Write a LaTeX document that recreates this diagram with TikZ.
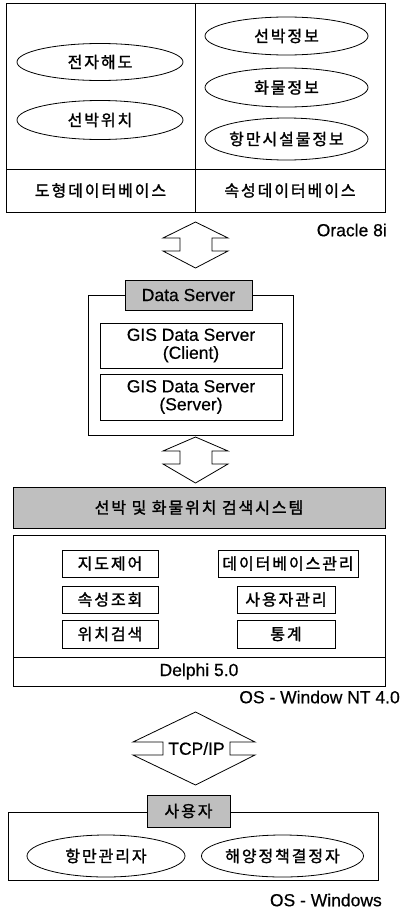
\documentclass[tikz,border=0pt]{standalone}
\usepackage{fontspec}
\setmainfont{Liberation Sans}[FakeBold=0.5]
\newfontfamily\kr{Noto Sans CJK KR}[LetterSpace=12,FakeBold=1.5]
\usetikzlibrary{shapes.geometric}
\tikzset{
  lw/.style={line width=0.8pt},
  krtext/.style={font=\kr\fontsize{16}{19}\selectfont},
  lattext/.style={font=\fontsize{17.5}{20}\selectfont},
  oval/.style={draw, lw, ellipse, inner sep=0pt, krtext},
  box/.style={draw, lw, rectangle, inner sep=0pt},
  hdr/.style={draw, lw, rectangle, inner sep=0pt, fill=black!25},
  barrow/.style={draw, lw, fill=white, line join=miter},
}
\begin{document}
\begin{tikzpicture}[x=1pt,y=-1pt]
\useasboundingbox (0,0) rectangle (401,924);
% ---------- Oracle databases ----------
\node[box, minimum width=189, minimum height=166] (gpanel) at (100.5,86) {};
\node[box, minimum width=190, minimum height=166] (apanel) at (290,86) {};
\node[box, minimum width=189, minimum height=43, krtext] (gdb) at (100.5,190.5) {도형데이터베이스};
\node[box, minimum width=190, minimum height=43, krtext] (adb) at (290,190.5) {속성데이터베이스};
\node[oval, minimum width=166, minimum height=37] (e1) at (100,62) {전자해도};
\node[oval, minimum width=166, minimum height=39] (e2) at (100,120) {선박위치};
\node[oval, minimum width=163, minimum height=38] (e3) at (286.5,36) {선박정보};
\node[oval, minimum width=163, minimum height=39] (e4) at (286.5,87.5) {화물정보};
\node[oval, minimum width=163, minimum height=42] (e5) at (286.5,139) {항만시설물정보};
\node[lattext, anchor=east, inner sep=0pt] (ora) at (387,230) {Oracle 8i};
% ---------- block arrow 1 ----------
\draw[barrow] (195.5,222) -- (228,238) -- (212,238) -- (212,251) -- (228,251) -- (195.5,268)
  -- (163,251) -- (180,251) -- (180,238) -- (163,238) -- cycle;
% ---------- Data Server ----------
\node[box, minimum width=205, minimum height=140] (ds) at (190.5,365) {};
\node[box, minimum width=182, minimum height=45, lattext, align=center] (gc) at (191,345.5) {GIS Data Server\\[-2pt](Client)};
\node[box, minimum width=182, minimum height=46, lattext, align=center] (gs) at (191,397) {GIS Data Server\\[-2pt](Server)};
\node[hdr, minimum width=127, minimum height=30, lattext] (dsh) at (188.5,295) {Data Server};
% ---------- block arrow 2 ----------
\draw[barrow] (195.5,437) -- (228,451) -- (212,451) -- (212,464) -- (228,464) -- (195.5,483)
  -- (163,464) -- (180,464) -- (180,451) -- (163,451) -- cycle;
% ---------- search system ----------
\node[hdr, minimum width=372, minimum height=41, krtext] (sys) at (199,507.5) {선박 및 화물위치 검색시스템};
\node[box, minimum width=372, minimum height=151] (main) at (199,610.5) {};
\node[box, minimum width=372, minimum height=29, lattext] (delphi) at (199,671.5) {Delphi 5.0};
\node[box, minimum width=96, minimum height=27, krtext] (m1) at (110,563.5) {지도제어};
\node[box, minimum width=96, minimum height=27, krtext] (m2) at (110,599.5) {속성조회};
\node[box, minimum width=96, minimum height=28, krtext] (m3) at (110,634) {위치검색};
\node[box, minimum width=140, minimum height=27, krtext] (m4) at (288,563.5) {데이터베이스관리};
\node[box, minimum width=98, minimum height=27, krtext] (m5) at (286,599.5) {사용자관리};
\node[box, minimum width=98, minimum height=28, krtext] (m6) at (286,634) {통계};
\node[lattext, anchor=east, inner sep=0pt] (nt) at (400,697) {OS - Window NT 4.0};
% ---------- TCP/IP arrow ----------
\draw[barrow] (195.5,712) -- (255,742) -- (230,742) -- (230,755) -- (255,755) -- (195.5,785)
  -- (133,755) -- (163,755) -- (163,742) -- (133,742) -- cycle;
\node[lattext, inner sep=0pt] (tcp) at (196.5,748.5) {TCP/IP};
% ---------- users ----------
\node[box, minimum width=370, minimum height=68] (usr) at (193,846) {};
\node[hdr, minimum width=83, minimum height=32, krtext] (usrh) at (188.5,811) {사용자};
\node[oval, minimum width=158, minimum height=42] (u1) at (106,856) {항만관리자};
\node[oval, minimum width=159, minimum height=42] (u2) at (282.5,856) {해양정책결정자};
\node[lattext, anchor=east, inner sep=0pt] (win) at (382,900) {OS - Windows};
\end{tikzpicture}
\end{document}
